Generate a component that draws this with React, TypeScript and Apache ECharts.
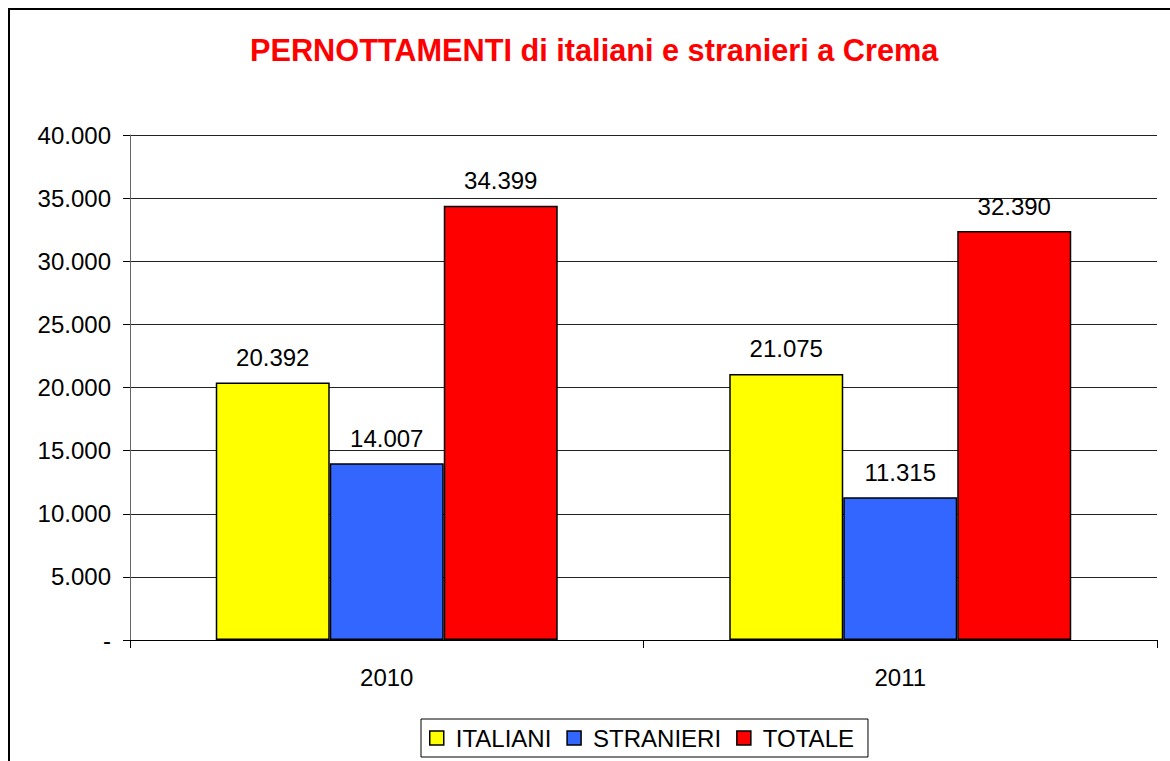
import React, { useEffect, useRef } from "react";
import * as echarts from "echarts";

const categories = ["2010", "2011"];
const italiani = [20392, 21075];
const stranieri = [14007, 11315];
const totale = [34399, 32390];
const seriesNames = ["ITALIANI", "STRANIERI", "TOTALE"];
const titleText = "PERNOTTAMENTI di italiani e stranieri a Crema";

const fmt = (v: number) => {
  if (v === 0) return "-";
  return String(Math.round(v)).replace(/\B(?=(\d{3})+(?!\d))/g, ".");
};

export default function App() {
  const ref = useRef<HTMLDivElement>(null);
  useEffect(() => {
    if (!ref.current) return;
    const chart = echarts.init(ref.current, undefined, { renderer: "svg" });
    const font = "Liberation Sans, Arial, sans-serif";
    const mk = (name: string, data: number[], color: string) => ({
      name,
      type: "bar",
      data,
      barGap: "0%",
      barCategoryGap: "33.4%",
      itemStyle: { color, borderColor: "#000", borderWidth: 1.5 },
      label: {
        show: true,
        position: "top",
        distance: 13,
        color: "#000",
        fontSize: 24,
        fontFamily: font,
        formatter: (p: any) => fmt(p.value),
      },
    });
    chart.setOption({
      animation: false,
      backgroundColor: "#fff",
      title: {
        text: titleText,
        left: 250,
        top: 35,
        padding: 0,
        textStyle: { color: "#ff0000", fontSize: 30.7, fontWeight: "bold", fontFamily: font },
      },
      graphic: [
        {
          type: "rect",
          shape: { x: 9, y: 9, width: 1250, height: 800 },
          style: { fill: "none", stroke: "#000", lineWidth: 2 },
          silent: true,
          z: 100,
        },
      ],
      grid: { left: 130, right: 13, top: 135, bottom: 121 },
      legend: {
        left: 421,
        top: 719,
        itemWidth: 14,
        itemHeight: 14,
        itemGap: 15,
        icon: "rect",
        padding: [7, 14, 7, 8],
        borderColor: "#000",
        borderWidth: 1,
        textStyle: { fontSize: 24, color: "#000", fontFamily: font, padding: [0, 0, 0, 7] },
        itemStyle: { borderColor: "#000", borderWidth: 1.5 },
        data: seriesNames,
      },
      xAxis: {
        type: "category",
        data: categories,
        axisLine: { lineStyle: { color: "#000", width: 1 } },
        axisTick: { show: true, length: 8, lineStyle: { color: "#000" } },
        axisLabel: { color: "#000", fontSize: 24, fontFamily: font, margin: 25 },
      },
      yAxis: {
        type: "value",
        min: 0,
        max: 40000,
        interval: 5000,
        axisLine: { show: true, lineStyle: { color: "#666", width: 1 } },
        axisTick: { show: true, length: 7, lineStyle: { color: "#000" } },
        splitLine: { lineStyle: { color: "#222", width: 1 } },
        axisLabel: { color: "#000", fontSize: 24, fontFamily: font, margin: 19, formatter: (v: number) => fmt(v) },
      },
      series: [
        mk(seriesNames[0], italiani, "#ffff00"),
        mk(seriesNames[1], stranieri, "#3366ff"),
        mk(seriesNames[2], totale, "#ff0000"),
      ],
    });
    return () => chart.dispose();
  }, []);
  return (
    <div
      ref={ref}
      style={{ position: "fixed", left: 0, top: 0, width: 1170, height: 761, background: "#fff" }}
    />
  );
}
